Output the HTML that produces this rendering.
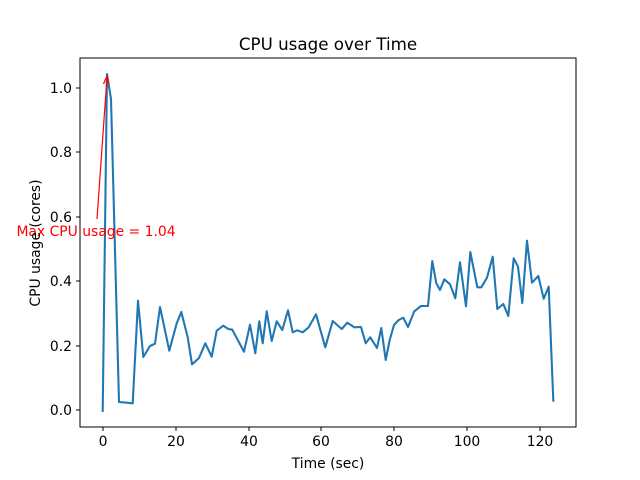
<!DOCTYPE html>
<html><head><style>body{margin:0;background:#fff}svg{display:block}text{font-family:"DejaVu Sans","Liberation Sans",sans-serif}</style></head><body>
<svg width="640" height="480" viewBox="0 0 640 480">
<rect width="640" height="480" fill="#fff"/>
<polyline fill="none" stroke="#1f77b4" stroke-width="2.08" stroke-linejoin="round" stroke-linecap="square" points="102.7,411 107,74 111,99 119,402 132.7,403.3 138,300.7 143.3,357 150,346 155,343.7 160,307 169.3,350.7 176.7,323.3 181.3,312 187.7,337.3 192,364.3 199,358 205.3,343.3 211.7,356.7 216.7,330.7 223.3,325.7 228.3,329 232.3,329.7 244,351.7 250,324.7 255.3,353.3 259.3,321.3 262.7,343.3 266.7,311.3 271.7,341 276.7,321.3 282.3,330 288,310.3 292.7,332.3 297.3,330.3 302.7,332.3 308.7,327.3 316,314.3 325.3,347.3 332.7,321 341.7,329 347.3,322.7 354.3,327.3 361,327 365.7,343.3 370.3,337.3 377,348 381.3,328 385.7,360 389.7,340 394,325 398.7,320 403.3,317.7 408,327 414.3,311.3 421,306 428,306 432.3,261 436.3,283.3 440,290 444.3,279.3 450,284.3 455.3,298.3 460,262.3 466,306.3 470.3,252 477.3,287.3 481.3,287.3 487,277.7 492.7,256.7 497.3,309 503.3,304 508.3,316 513.7,258.3 518,266.7 522.3,303 527,240.7 532,282.7 538.3,276 543.7,298.7 548.7,286.7 553.3,400.7"/>
<line x1="97" y1="219" x2="107" y2="77" stroke="red" stroke-width="1.2"/>
<path d="M103.5,84 L107,76 L109,84.5" fill="none" stroke="red" stroke-width="1.2"/>
<text x="96" y="236" fill="red" font-size="13.9" text-anchor="middle">Max CPU usage = 1.04</text>
<rect x="80" y="58" width="496" height="369" fill="none" stroke="#000" stroke-width="1"/>
<g stroke="#000" stroke-width="1">
<line x1="103" y1="427" x2="103" y2="431"/><line x1="176" y1="427" x2="176" y2="431"/><line x1="249" y1="427" x2="249" y2="431"/><line x1="321" y1="427" x2="321" y2="431"/><line x1="394" y1="427" x2="394" y2="431"/><line x1="467" y1="427" x2="467" y2="431"/><line x1="540" y1="427" x2="540" y2="431"/>
<line x1="76" y1="410" x2="80" y2="410"/><line x1="76" y1="346" x2="80" y2="346"/><line x1="76" y1="281" x2="80" y2="281"/><line x1="76" y1="217" x2="80" y2="217"/><line x1="76" y1="152" x2="80" y2="152"/><line x1="76" y1="88" x2="80" y2="88"/>
</g>
<g font-size="13.9" text-anchor="middle" fill="#000">
<text x="103" y="446">0</text><text x="176" y="446">20</text><text x="249" y="446">40</text><text x="321" y="446">60</text><text x="394" y="446">80</text><text x="467" y="446">100</text><text x="540" y="446">120</text>
</g>
<g font-size="13.9" text-anchor="end" fill="#000">
<text x="72" y="415">0.0</text><text x="72" y="351">0.2</text><text x="72" y="286">0.4</text><text x="72" y="222">0.6</text><text x="72" y="157">0.8</text><text x="72" y="93">1.0</text>
</g>
<text x="328" y="468" font-size="13.9" text-anchor="middle">Time (sec)</text>
<text x="0" y="0" font-size="13.9" text-anchor="middle" transform="translate(40,243) rotate(-90)">CPU usage (cores)</text>
<text x="328" y="50" font-size="16.7" text-anchor="middle">CPU usage over Time</text>
</svg>
</body></html>
